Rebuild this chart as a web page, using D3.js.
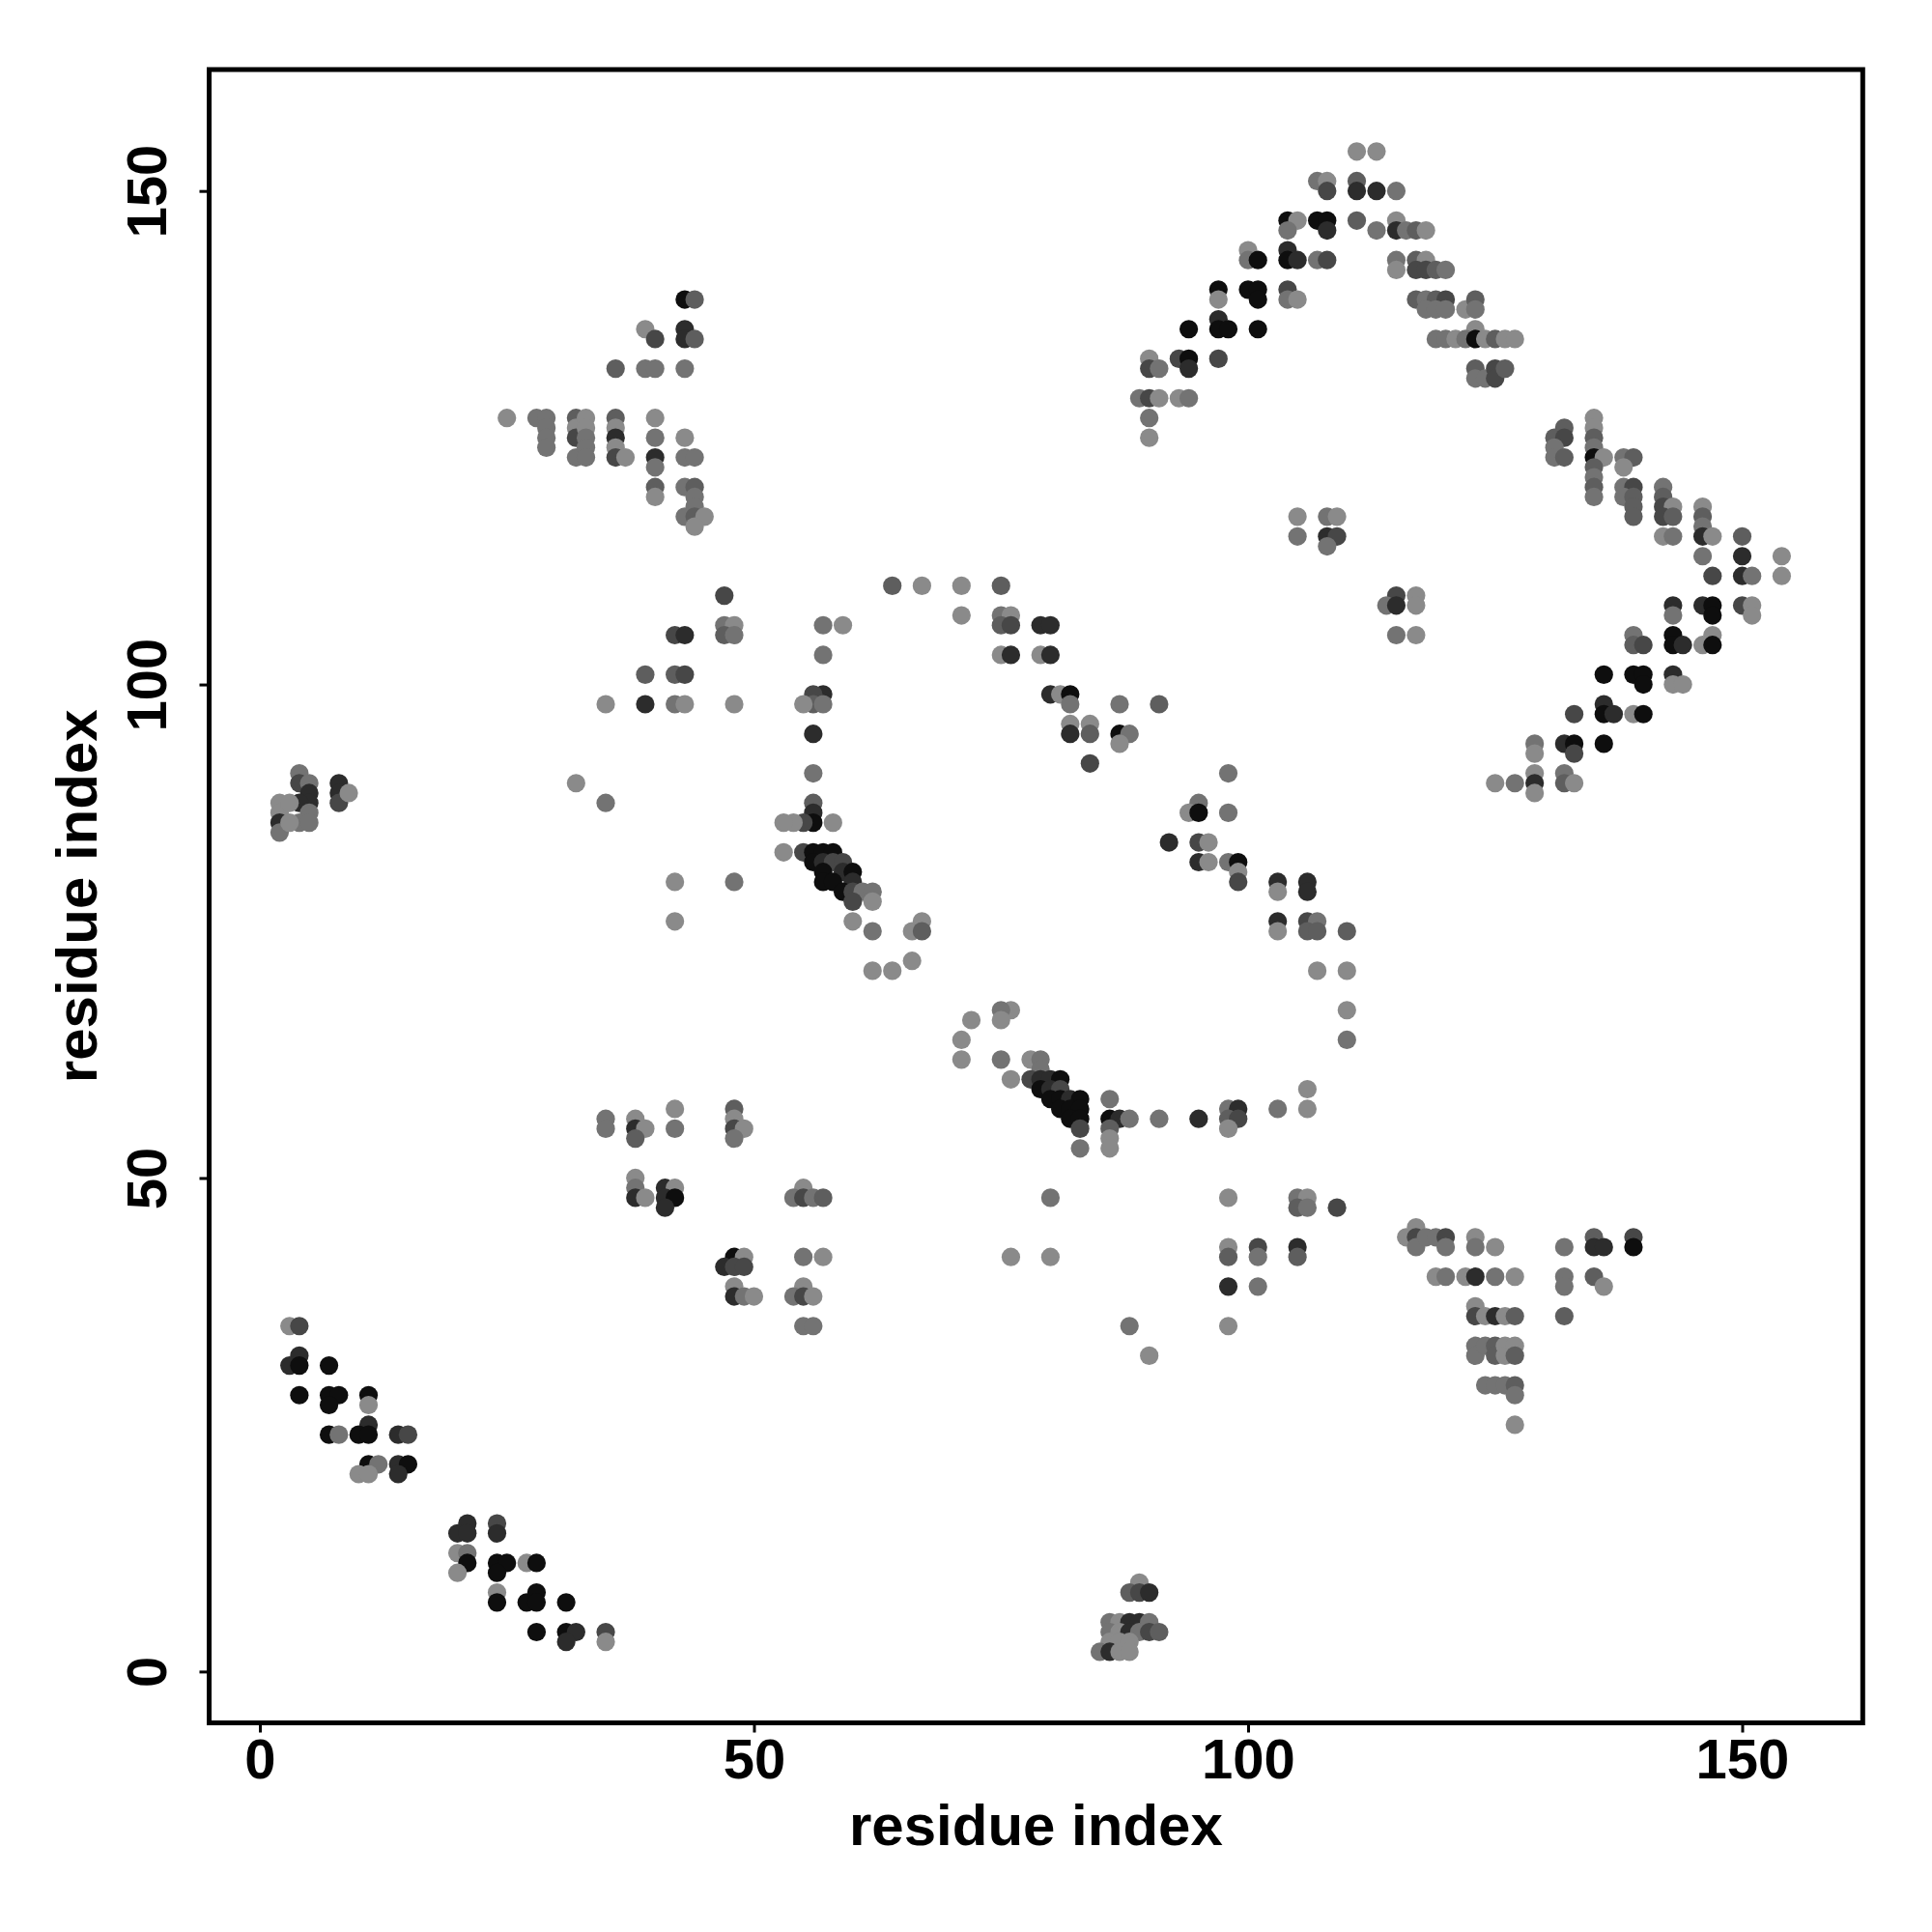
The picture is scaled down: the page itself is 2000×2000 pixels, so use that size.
<!DOCTYPE html>
<html>
<head>
<meta charset="utf-8">
<script src="https://cdn.jsdelivr.net/npm/d3@7"></script>
<style>
  html, body { margin: 0; padding: 0; background: #ffffff; }
  svg { display: block; }
</style>
</head>
<body>
<div id="chart"></div>
<script>
// ---- data: [residue i, residue j, shade level (1 = darkest ... 6 = lightest)] ----
const contactsNTermHelix = [
  [3,35,6],[4,35,3],[4,32,2],[3,31,2],[4,31,1],[7,31,1],[4,28,1],[7,28,1],[8,28,1],[7,27,1],
  [11,28,1],[11,27,6],[11,25,2],[7,24,1],[8,24,5],[10,24,1],[11,24,1],[14,24,2],[15,24,3],
  [11,21,1],[12,21,5],[14,21,2],[15,21,1],[10,20,6],[11,20,6],[14,20,2],
  [21,15,2],[20,14,2],[21,14,2],[24,15,3],[24,14,2],[20,12,6],[21,12,5],[21,11,1],[20,10,6],
  [24,11,1],[25,11,1],[24,10,1],[27,11,6],[28,11,1],[24,8,6],[24,7,1],[27,7,1],[28,8,1],[28,7,1],
  [31,7,1],[28,4,1],[31,4,1],[32,4,2],[31,3,2],[35,4,3],[35,3,6]
];
const contactsBlock38 = [
  [38,50,6],[38,49,5],[38,48,2],[39,48,6],[41,49,2],[42,49,6],[41,48,2],[42,48,1],[41,47,2],
  [48,42,1],[49,42,6],[47,41,2],[48,41,3],[49,41,3],[48,39,6],[48,38,2],[49,38,5],[50,38,6]
];
const contactsBlock55 = [
  [35,56,5],[35,55,5],[38,56,6],[38,55,2],[39,55,6],[38,54,4],[42,57,6],[42,55,5],
  [48,57,4],[48,56,6],[48,55,3],[49,55,6],[48,54,5]
];
const contactsBlock48 = [
  [55,49,6],[54,48,5],[55,48,3],[56,48,5],[57,48,4],[80,48,5],[55,42,5],[57,42,6],[76,42,6],[80,42,6],
  [55,39,6],[54,38,5],[55,38,3],[56,38,6],[55,35,5],[56,35,5],[88,35,5],[90,32,6]
];
const contactsCTermT = [
  [98,48,6],[105,48,5],[106,48,6],[105,47,4],[106,47,5],[109,47,3],[98,43,6],[98,42,4],[101,43,3],[101,42,5],
  [105,43,2],[105,42,4],[98,39,2],[101,39,5],[98,35,6],
  [116,44,6],[117,45,6],[117,44,3],[117,43,5],[118,44,5],[119,44,5],[120,44,3],[120,43,5],[123,44,6],[123,43,5],
  [125,43,6],[132,43,5],[135,44,4],[135,43,2],[136,43,2],[139,44,3],[139,43,1],
  [119,40,6],[120,40,5],[122,40,6],[123,40,2],[125,40,5],[127,40,6],[132,40,5],[132,39,5],[135,40,4],[136,39,6],
  [123,37,6],[123,36,3],[124,36,6],[125,36,2],[126,36,6],[127,36,4],[132,36,4],
  [123,33,5],[123,32,5],[124,33,5],[125,33,4],[125,32,4],[126,33,6],[126,32,6],[127,33,6],[127,32,4],
  [124,29,5],[125,29,5],[126,29,5],[127,29,4],[127,28,5],[127,25,6]
];
const contactsBottomCluster = [
  [89,9,6],[88,8,4],[89,8,3],[90,8,2],[86,5,5],[87,5,6],[88,5,2],[89,5,2],[90,5,5],
  [86,4,5],[87,4,6],[88,4,2],[89,4,5],[90,4,3],[91,4,4],[86,3,6],[87,3,6],[88,3,6],
  [85,2,5],[86,2,2],[87,2,6],[88,2,6]
];
const contactsBlock100 = [
  [47,109,3],[47,106,5],[48,106,6],[42,105,3],[43,105,2],[47,105,4],[48,105,5],[39,101,4],[42,101,4],[43,101,3],
  [35,98,6],[39,98,2],[42,98,5],[43,98,6],[48,98,6],[32,90,6],[35,88,5],[42,80,6],[48,80,5],[42,76,6]
];
const contactsUpperLeft = [
  [43,139,1],[44,139,4],[39,136,6],[43,136,2],[40,135,3],[43,135,2],[44,135,4],[36,132,4],[39,132,5],[40,132,5],
  [43,132,5],[25,127,6],[28,127,5],[29,127,5],[29,126,5],[29,125,5],[29,124,5],[32,127,4],[32,126,6],[32,125,3],
  [32,123,5],[33,127,6],[33,126,6],[33,125,5],[33,124,5],[33,123,5],[36,127,4],[36,126,6],[36,125,2],[36,124,6],
  [36,123,3],[37,123,6],[40,127,6],[40,125,5],[40,123,2],[40,122,5],[40,120,4],[40,119,6],[43,125,6],[43,123,5],
  [43,120,5],[44,123,5],[44,120,4],[44,119,5],[44,118,5],[43,117,5],[44,117,4],[45,117,6],[44,116,6]
];
const contactsUpperChain = [
  [104,147,1],[105,147,6],[104,146,5],[100,144,6],[100,143,5],[101,143,1],[104,144,2],[104,143,1],[105,143,2],
  [97,140,1],[97,139,6],[100,140,1],[101,140,1],[101,139,1],[104,140,3],[104,139,5],[105,139,6],
  [94,136,1],[97,137,2],[97,136,1],[98,136,1],[101,136,1],[90,133,6],[90,132,3],[91,132,5],[93,133,3],
  [94,133,1],[94,132,2],[97,133,3],[89,129,5],[90,129,3],[91,129,6],[93,129,6],[94,129,5],[90,127,5],[90,125,6]
];
const contactsUpperRight = [
  [111,154,6],[113,154,6],[107,151,5],[108,151,6],[108,150,3],[111,151,4],[111,150,2],[113,150,2],[115,150,5],
  [107,147,1],[108,147,1],[108,146,2],[111,147,4],[113,146,5],[115,147,6],[115,146,2],[116,146,5],[117,146,4],[118,146,6],
  [107,143,5],[108,143,3],[115,143,5],[115,142,6],[117,143,4],[118,143,6],[117,142,3],[118,142,3],[119,142,4],[120,142,5],
  [117,139,4],[118,139,5],[119,139,4],[120,139,3],[118,138,5],[119,138,5],[120,138,5],[122,138,6],[123,139,4],[123,138,5],[123,136,6],
  [119,135,5],[120,135,5],[121,135,6],[122,135,5],[123,135,1],[124,135,6],[125,135,4],[126,135,6],[127,135,6],
  [123,132,4],[123,131,5],[124,131,5],[125,132,3],[125,131,3],[126,132,4],
  [132,126,4],[131,125,4],[132,125,3],[131,124,5],[131,123,5],[132,123,4],
  [135,127,6],[135,126,6],[135,125,4],[135,124,5],[135,123,1],[136,123,6],[135,122,4],[135,121,5],[135,120,4],[135,119,5],
  [138,123,5],[139,123,4],[138,122,6],[138,120,5],[139,120,3],[138,119,5],[139,119,4],[139,118,4],[139,117,4],
  [142,120,5],[142,119,4],[142,118,3],[143,118,6],[142,117,3],[143,117,4],[142,115,6],[143,115,5],
  [146,118,6],[146,117,4],[146,116,5],[146,115,2],[147,115,6],
  [150,115,4],[146,113,5],[147,111,3],[150,113,2],[150,111,2],[151,111,5],[154,113,6],[154,111,6],
  [143,108,2],[143,107,5],[146,108,2],[147,108,1],[147,107,1],[150,108,3],[151,108,6],[151,107,6],
  [143,105,1],[139,105,5],[147,105,6],
  [105,117,6],[105,115,5],[108,117,5],[109,117,6],[108,115,2],[109,115,3],[108,114,5],
  [115,109,3],[114,108,5],[115,108,2],[117,109,6],[117,108,6],[115,105,5],[117,105,6]
];
const contactsRightSheet = [
  [139,104,4],[140,104,3],[143,104,1],[144,104,2],[146,104,6],[147,104,1],
  [136,101,1],[139,101,1],[140,101,1],[140,100,1],[143,101,2],[143,100,6],[144,100,6],
  [133,97,3],[136,98,2],[136,97,1],[137,97,2],[139,97,6],[140,97,1],
  [129,94,5],[129,93,6],[132,94,2],[133,94,1],[133,93,3],[136,94,1],
  [125,90,6],[127,90,5],[129,91,6],[129,90,2],[129,89,6],[132,91,5],[132,90,4],[133,90,6]
];
const contactsMidRight = [
  [106,80,2],[106,79,2],[106,76,3],[107,76,5],[106,75,4],[107,75,4],[110,75,4],[107,71,6],[110,71,6],[110,67,6],
  [110,64,5],[106,59,6],[106,57,6],
  [98,91,5],[95,88,5],[94,87,6],[95,87,1],[98,87,5],[92,84,2],[95,84,3],[96,84,6],[95,82,2],[96,82,6],[98,82,5],
  [99,82,1],[99,81,6],[99,80,3],[103,80,2],[103,79,6],[103,76,2],[103,75,6],
  [98,57,5],[99,57,2],[98,56,4],[99,56,3],[98,55,6],[103,57,5],[95,56,2],[91,56,5]
];
const contactsMidUpper = [
  [75,103,6],[76,103,2],[79,103,6],[80,103,2],[80,99,2],[81,99,6],[82,99,1],[82,98,5],[82,96,6],[82,95,2],
  [84,96,6],[84,95,4],[84,92,3],[87,98,5],[91,98,4],[87,95,1],[88,95,5],[87,94,6]
];
const contactsDiag80 = [
  [57,103,5],[57,99,2],[56,99,3],[56,98,4],[57,98,5],[55,98,6],[56,95,2],[56,91,5],
  [56,88,4],[56,87,2],[56,86,1],[55,86,3],[54,86,6],[53,86,6],[58,86,6],
  [53,83,6],[55,83,3],[56,83,1],[57,83,1],[58,83,1],[56,82,1],[57,82,2],[58,82,3],[59,82,3],
  [57,81,1],[59,81,2],[60,81,1],[57,80,1],[58,80,1],[60,80,2],[59,79,1],[60,79,3],[61,79,5],[62,79,5],
  [60,78,3],[62,78,6],[60,76,6],[62,75,5],[66,75,6],[67,76,6],[67,75,4],[62,71,6],[64,71,6],[66,72,6]
];
const contactsDiag58 = [
  [76,67,6],[75,67,5],[75,66,6],[72,66,6],[71,64,6],[71,62,6],[75,62,5],[76,60,6],[78,62,6],[79,62,5],
  [79,61,5],[78,60,3],[79,60,2],[80,60,2],[81,60,1],[79,59,1],[80,59,2],[81,59,3],
  [80,58,1],[81,58,1],[82,58,2],[83,58,1],[81,57,1],[82,57,1],[83,57,1],[82,56,1],[83,56,1],[83,55,3],[83,53,5],
  [86,58,5],[86,56,1],[87,56,2],[88,56,5],[86,55,4],[86,54,6],[86,53,6]
];
const contactsLeftCluster = [
  [4,91,5],[4,90,3],[5,90,5],[5,89,2],[5,88,2],[4,88,2],[5,87,5],[4,86,5],[5,86,5],[2,88,6],[2,87,6],
  [2,86,2],[2,85,5],[3,88,6],[3,86,6],[8,90,2],[8,89,2],[8,88,3],[9,89,6]
];
const contactsRow107 = [
  [64,110,4],[67,110,6],[71,110,6],[75,110,4],[71,107,6],[75,107,5],[76,107,6],[75,106,4],[76,106,3],
  [79,106,2],[80,106,2],[57,106,5],[59,106,6]
];

const tickValues = [0, 50, 100, 150];
const xTitle = "residue index";
const yTitle = "residue index";
const shadeLevels = [1, 2, 3, 4, 5, 6];

// ---- layout ----
const W = 2000, H = 2000;
const box = { left: 216.5, right: 1928.3, top: 72, bottom: 1783.5 };
const FONT = "'Liberation Sans', Arial, Helvetica, sans-serif";

const svg = d3.select("#chart").append("svg")
  .attr("width", W).attr("height", H)
  .style("background", "#ffffff");

const x = d3.scaleLinear().domain([-5.13, 162.2]).range([box.left, box.right]);
const y = d3.scaleLinear().domain([-5.2, 162.3]).range([box.bottom, box.top]);
const shade = d3.scaleOrdinal().domain(shadeLevels)
  .range(["#0e0e0e", "#2c2c2c", "#474747", "#5e5e5e", "#737373", "#8a8a8a"]);

const allContacts = [].concat(
  contactsNTermHelix, contactsBlock38, contactsBlock55, contactsBlock48, contactsCTermT,
  contactsBottomCluster, contactsBlock100, contactsUpperLeft, contactsUpperChain,
  contactsUpperRight, contactsRightSheet, contactsMidRight, contactsMidUpper,
  contactsDiag80, contactsDiag58, contactsLeftCluster, contactsRow107
);

svg.append("g").selectAll("circle")
  .data(allContacts)
  .join("circle")
  .attr("cx", d => x(d[0]))
  .attr("cy", d => y(d[1]))
  .attr("r", 9.6)
  .attr("fill", d => shade(d[2]));

// axes
const xAxis = svg.append("g")
  .attr("transform", `translate(0,${box.bottom})`)
  .call(d3.axisBottom(x).tickValues(tickValues).tickSize(10).tickPadding(6).tickFormat(d3.format("d")));
xAxis.select(".domain").remove();
xAxis.selectAll(".tick line").attr("stroke", "#000").attr("stroke-width", 3);
xAxis.selectAll(".tick text")
  .attr("fill", "#000")
  .style("font-family", FONT).style("font-weight", "bold").style("font-size", "58px");

const yAxis = svg.append("g")
  .attr("transform", `translate(${box.left},0)`)
  .call(d3.axisLeft(y).tickValues(tickValues).tickSize(10).tickFormat(d3.format("d")));
yAxis.select(".domain").remove();
yAxis.selectAll(".tick line").attr("stroke", "#000").attr("stroke-width", 3);
yAxis.selectAll(".tick text")
  .attr("fill", "#000")
  .attr("transform", "rotate(-90)")
  .attr("x", 0).attr("y", -45).attr("dy", null)
  .attr("text-anchor", "middle")
  .style("font-family", FONT).style("font-weight", "bold").style("font-size", "58px");

// frame
svg.append("rect")
  .attr("x", box.left).attr("y", box.top)
  .attr("width", box.right - box.left).attr("height", box.bottom - box.top)
  .attr("fill", "none").attr("stroke", "#000").attr("stroke-width", 5);

// titles
svg.append("text")
  .attr("x", (box.left + box.right) / 2).attr("y", 1910)
  .attr("text-anchor", "middle")
  .style("font-family", FONT).style("font-weight", "bold").style("font-size", "60px")
  .text(xTitle);

svg.append("text")
  .attr("transform", `translate(100,${(box.top + box.bottom) / 2}) rotate(-90)`)
  .attr("text-anchor", "middle")
  .style("font-family", FONT).style("font-weight", "bold").style("font-size", "60px")
  .text(yTitle);
</script>
</body>
</html>
